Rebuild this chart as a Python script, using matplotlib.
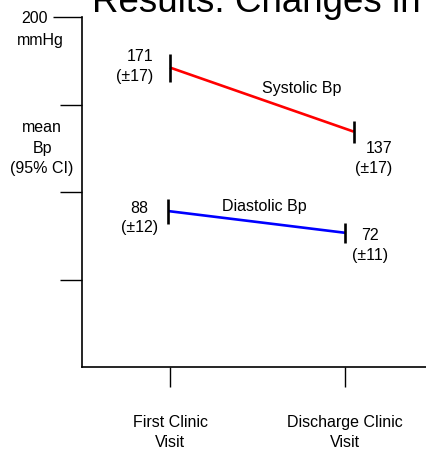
import matplotlib
matplotlib.use("Agg")
import matplotlib.pyplot as plt

plt.rcParams['font.family'] = ['Liberation Sans', 'DejaVu Sans']

# visits on the x axis
visits = ["First Clinic\nVisit", "Discharge Clinic\nVisit"]
visit_pos = [1, 2]

# drawn positions
sys_x = [1.0, 2.05]
sys_y = [171.1, 134.5]
dia_x = [0.99, 2.0]
dia_y = [89.1, 76.7]

# half lengths of the black bars at each point
sys_bar = [8.0, 6.3]
dia_bar = [7.1, 5.7]

# printed labels
sys_labels = ["171\n(±17)", "137\n(±17)"]
dia_labels = ["88\n(±12)", "72\n(±11)"]

W, H = 426, 450
fig = plt.figure(figsize=(W / 100, H / 100), dpi=100)


def px(x, y):
    return x / W, 1 - y / H


ax = fig.add_axes([82 / W, 1 - 367 / H, 1 - 82 / W, (367 - 17) / H])
ax.set_xlim(0.497, 2.463)
ax.set_ylim(0, 200)

for s in ['top', 'right']:
    ax.spines[s].set_visible(False)
for s in ['left', 'bottom']:
    ax.spines[s].set_linewidth(1.2)

ax.set_yticks([50, 100, 150])
ax.set_yticklabels([])
ax.set_yticks([200], labels=['200'], minor=True)
ax.tick_params(axis='y', which='major', length=15.8, width=1.0, direction='out')
ax.tick_params(axis='y', which='minor', length=21, width=1.0, direction='out',
               pad=3.5, labelsize=11.5)

ax.set_xticks(visit_pos, labels=visits)
ax.tick_params(axis='x', length=14.4, width=1.0, direction='out', pad=20,
               labelsize=11.5)
for lab in ax.get_xticklabels():
    lab.set_linespacing(1.45)

ax.plot(sys_x, sys_y, color='#ff0000', lw=1.9, solid_capstyle='butt')
ax.plot(dia_x, dia_y, color='#0000ff', lw=1.9, solid_capstyle='butt')
ax.errorbar(sys_x, sys_y, yerr=sys_bar, fmt='none', ecolor='black', elinewidth=1.9, capsize=0)
ax.errorbar(dia_x, dia_y, yerr=dia_bar, fmt='none', ecolor='black', elinewidth=1.9, capsize=0)

fs = 11.5
ls = 1.4
ax.annotate(sys_labels[0], (sys_x[0], sys_y[0]), xytext=(-17, 1), textcoords='offset pixels',
            ha='right', va='center', multialignment='right', fontsize=fs, linespacing=ls)
ax.annotate(sys_labels[1], (sys_x[1], sys_y[1]), xytext=(1, -27), textcoords='offset pixels',
            ha='left', va='center', multialignment='right', fontsize=fs, linespacing=ls)
ax.annotate(dia_labels[0], (dia_x[0], dia_y[0]), xytext=(-10, -7), textcoords='offset pixels',
            ha='right', va='center', multialignment='center', fontsize=fs, linespacing=ls)
ax.annotate(dia_labels[1], (dia_x[1], dia_y[1]), xytext=(7, -13), textcoords='offset pixels',
            ha='left', va='center', multialignment='center', fontsize=fs, linespacing=ls)

fig.text(*px(302, 88), "Systolic Bp", ha='center', va='center', fontsize=fs)
fig.text(*px(264, 207), "Diastolic Bp", ha='center', va='center', fontsize=fs)

fig.text(*px(40, 40), "mmHg", ha='center', va='center', fontsize=fs)
fig.text(*px(42, 148), "mean\nBp\n(95% CI)", ha='center', va='center',
         multialignment='center', fontsize=fs, linespacing=1.45)

# title is cut off at the top edge in the original too
fig.text(*px(92, 12), "Results: Changes in", ha='left', va='baseline', fontsize=26.5)

fig.savefig("out.png", dpi=100)
